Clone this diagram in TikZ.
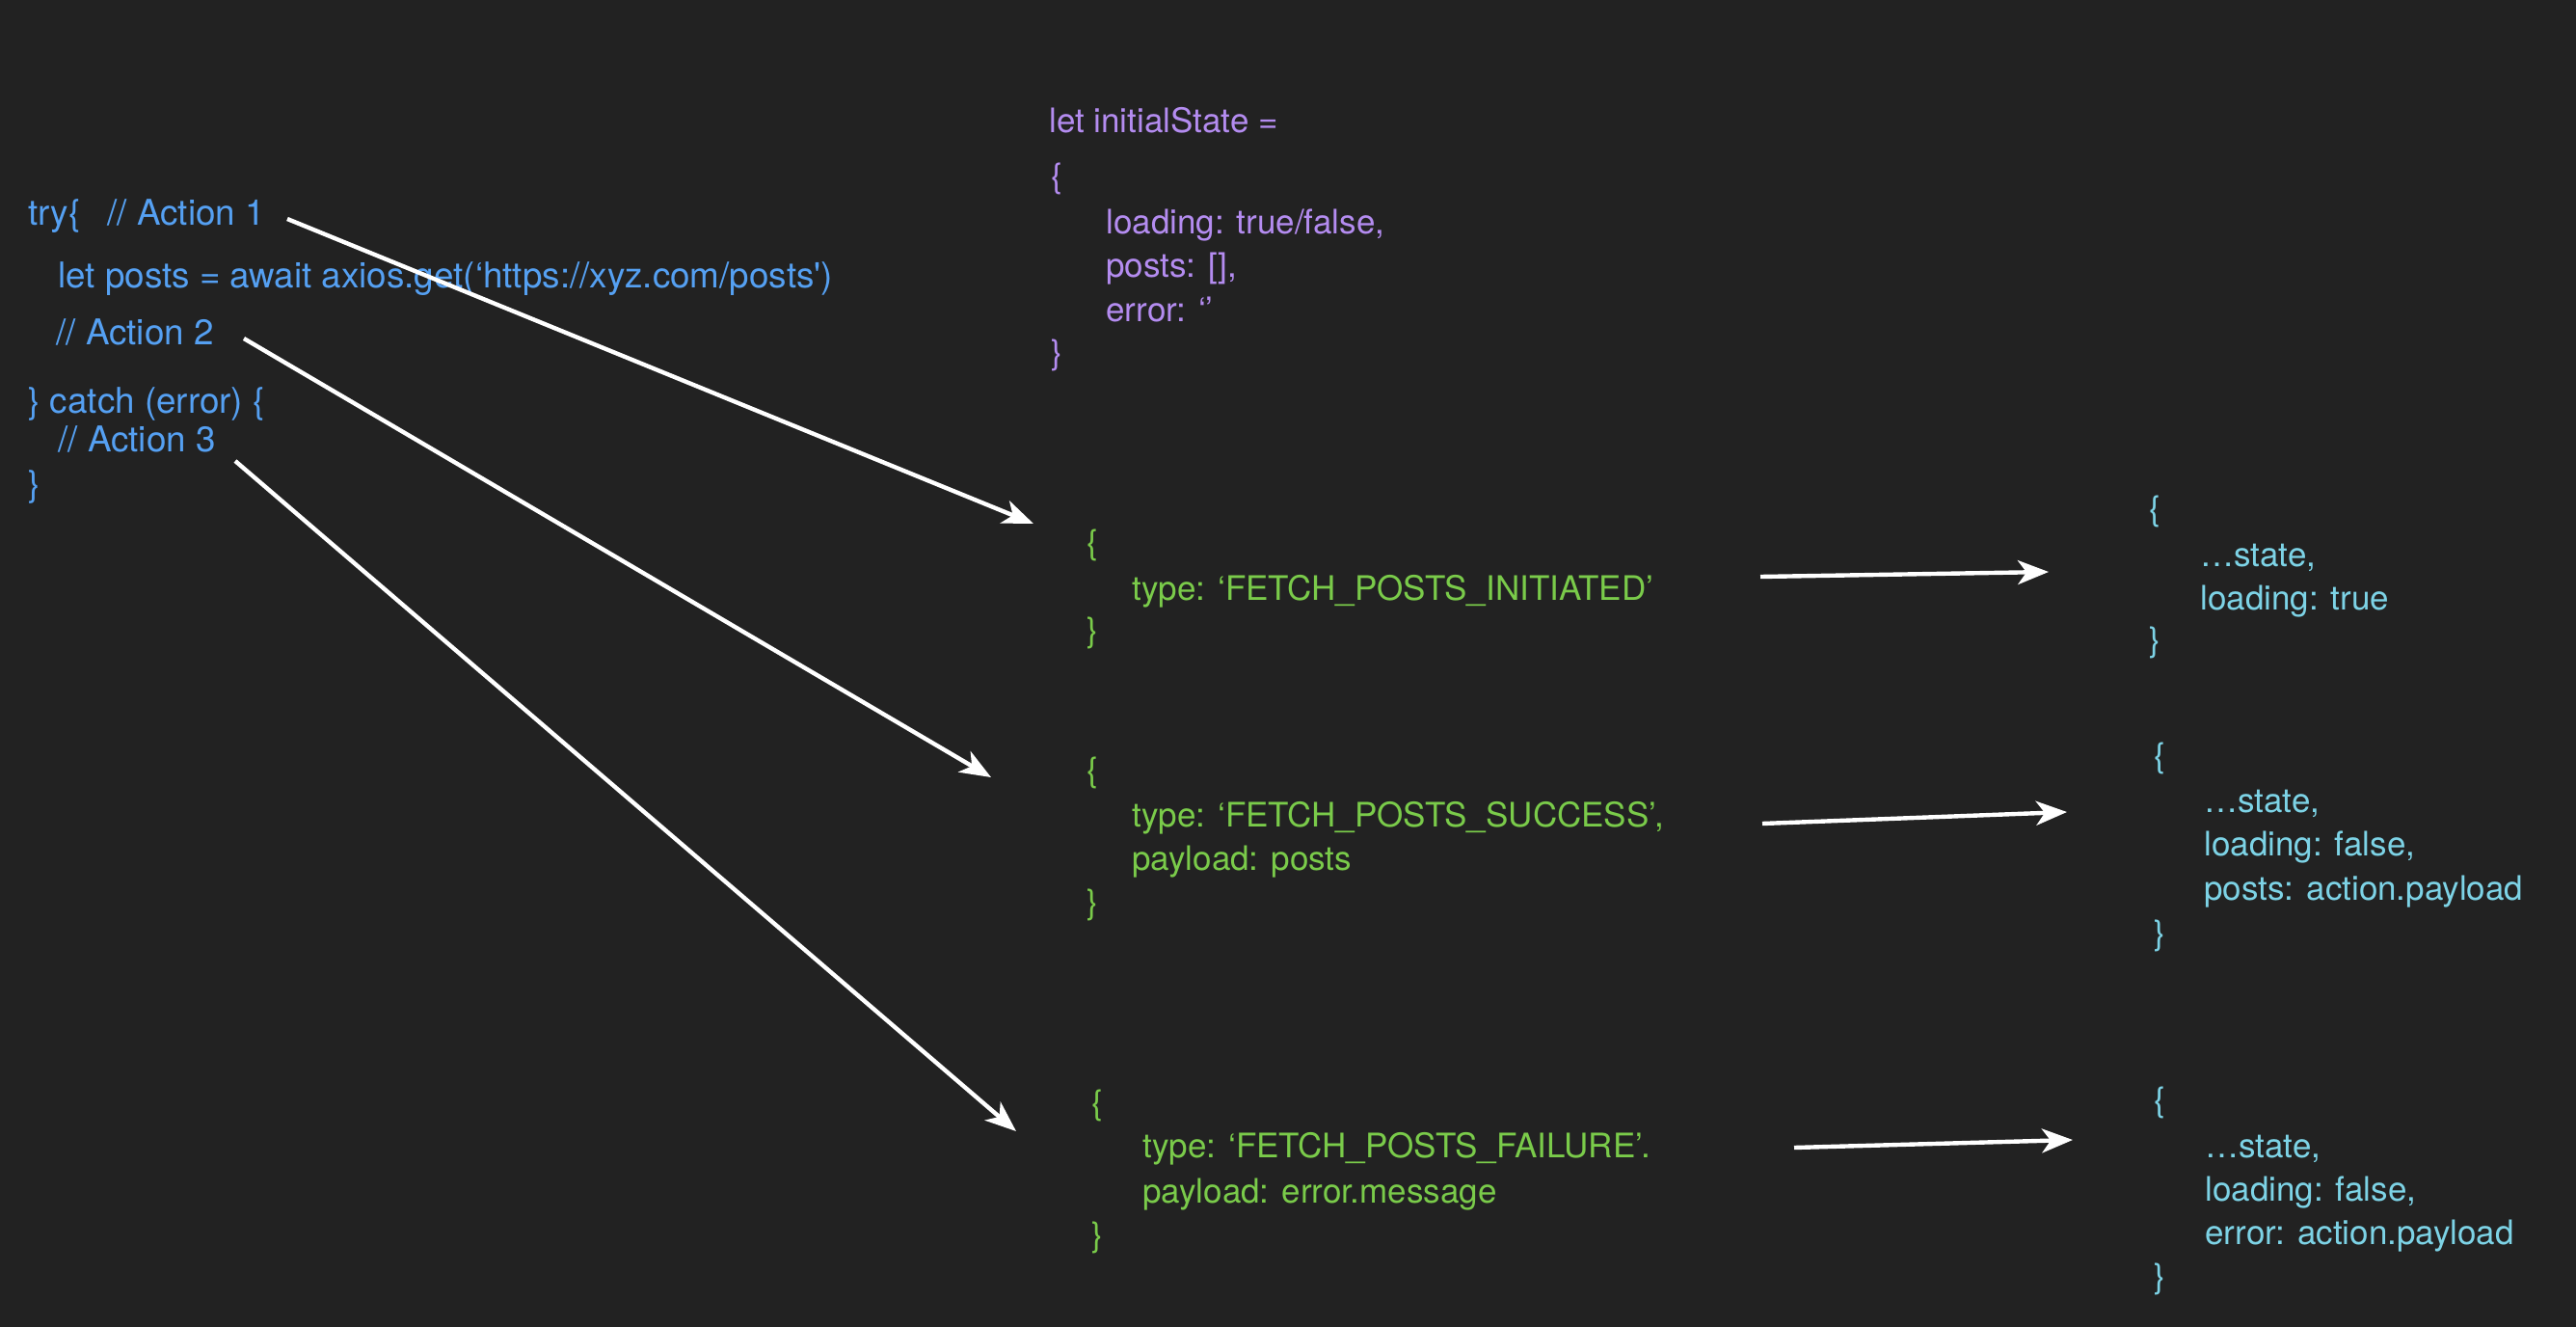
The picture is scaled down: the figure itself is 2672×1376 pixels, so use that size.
\documentclass[tikz,border=0pt]{standalone}
\usepackage{fontspec}
\setmainfont{TeX Gyre Heros}
\usepackage{xcolor}
\usepackage{tikz}
\usetikzlibrary{arrows.meta}
\definecolor{fondo}{HTML}{222222}
\definecolor{trycol}{HTML}{55A0F2}
\definecolor{statecol}{HTML}{B48CF0}
\definecolor{actioncol}{HTML}{7ACB4A}
\definecolor{reducecol}{HTML}{7DD3E6}
\tikzset{>={Stealth[length=16pt,width=12.5pt,inset=4.5pt]}}

\begin{document}
\begin{tikzpicture}[x=0.5pt,y=-0.5pt,font=\fontsize{17.5}{21}\selectfont,
	code/.style={anchor=base west,inner sep=0pt},
	trycode/.style={code,trycol,font=\fontsize{18.4}{22}\selectfont},
	flecha/.style={->,white,line width=2.2pt}]
	\fill[fondo] (0,0) rectangle (2672,1376);
	% try / catch
	\node[trycode] (try) at (29,233) {try\{\hspace{14pt}// Action 1};
	\node[trycode] (get) at (60,298) {let posts = await axios.get(`https://xyz.com/posts\textquotesingle)};
	\node[trycode] (act2) at (58,357) {// Action 2};
	\node[trycode] (catch) at (29,428) {\} catch (error) \{};
	\node[trycode] (act3) at (60,468) {// Action 3};
	\node[trycode] (tryend) at (29,514) {\}};
	% initial state
	\node[code,statecol] (init) at (1088,137) {let initialState =};
	\node[code,statecol] (initopen) at (1090,194) {\{};
	\node[code,statecol] (initload) at (1147,242) {loading: true/false,};
	\node[code,statecol] (initposts) at (1147,287) {posts: [],};
	\node[code,statecol] (initerror) at (1147,333) {error: `'};
	\node[code,statecol] (initclose) at (1090,377) {\}};
	% actions
	\node[code,actioncol] (iniopen) at (1127,574) {\{};
	\node[code,actioncol] (initype) at (1174,622) {type: `FETCH\_POSTS\_INITIATED'};
	\node[code,actioncol] (iniclose) at (1127,665) {\}};
	\node[code,actioncol] (sucopen) at (1127,810) {\{};
	\node[code,actioncol] (suctype) at (1174,857) {type: `FETCH\_POSTS\_SUCCESS',};
	\node[code,actioncol] (sucload) at (1174,902) {payload: posts};
	\node[code,actioncol] (succlose) at (1127,947) {\}};
	\node[code,actioncol] (failopen) at (1132,1155) {\{};
	\node[code,actioncol] (failtype) at (1185,1200) {type: `FETCH\_POSTS\_FAILURE'.};
	\node[code,actioncol] (failload) at (1185,1247) {payload: error.message};
	\node[code,actioncol] (failclose) at (1132,1292) {\}};
	% new states
	\node[code,reducecol] (sta1open) at (2229,539) {\{};
	\node[code,reducecol] (sta1a) at (2282,587) {…state,};
	\node[code,reducecol] (sta1b) at (2282,632) {loading: true};
	\node[code,reducecol] (sta1close) at (2229,675) {\}};
	\node[code,reducecol] (sta2open) at (2234,795) {\{};
	\node[code,reducecol] (sta2a) at (2286,842) {…state,};
	\node[code,reducecol] (sta2b) at (2286,887) {loading: false,};
	\node[code,reducecol] (sta2c) at (2286,933) {posts: action.payload};
	\node[code,reducecol] (sta2close) at (2234,979) {\}};
	\node[code,reducecol] (sta3open) at (2234,1152) {\{};
	\node[code,reducecol] (sta3a) at (2287,1200) {…state,};
	\node[code,reducecol] (sta3b) at (2287,1245) {loading: false,};
	\node[code,reducecol] (sta3c) at (2287,1290) {error: action.payload};
	\node[code,reducecol] (sta3close) at (2234,1335) {\}};
	% arrow ends
	\coordinate (a1) at (298,227);
	\coordinate (a2) at (253,351);
	\coordinate (a3) at (244,478);
	\coordinate (b1) at (1072,543);
	\coordinate (b2) at (1028,806);
	\coordinate (b3) at (1054,1173);
	\coordinate (c1) at (1826,598);
	\coordinate (c2) at (1828,854);
	\coordinate (c3) at (1861,1190);
	\coordinate (d1) at (2125,593);
	\coordinate (d2) at (2144,842);
	\coordinate (d3) at (2150,1182);
	\draw[flecha] (a1)--(b1);
	\draw[flecha] (a2)--(b2);
	\draw[flecha] (a3)--(b3);
	\draw[flecha] (c1)--(d1);
	\draw[flecha] (c2)--(d2);
	\draw[flecha] (c3)--(d3);
\end{tikzpicture}
\end{document}
